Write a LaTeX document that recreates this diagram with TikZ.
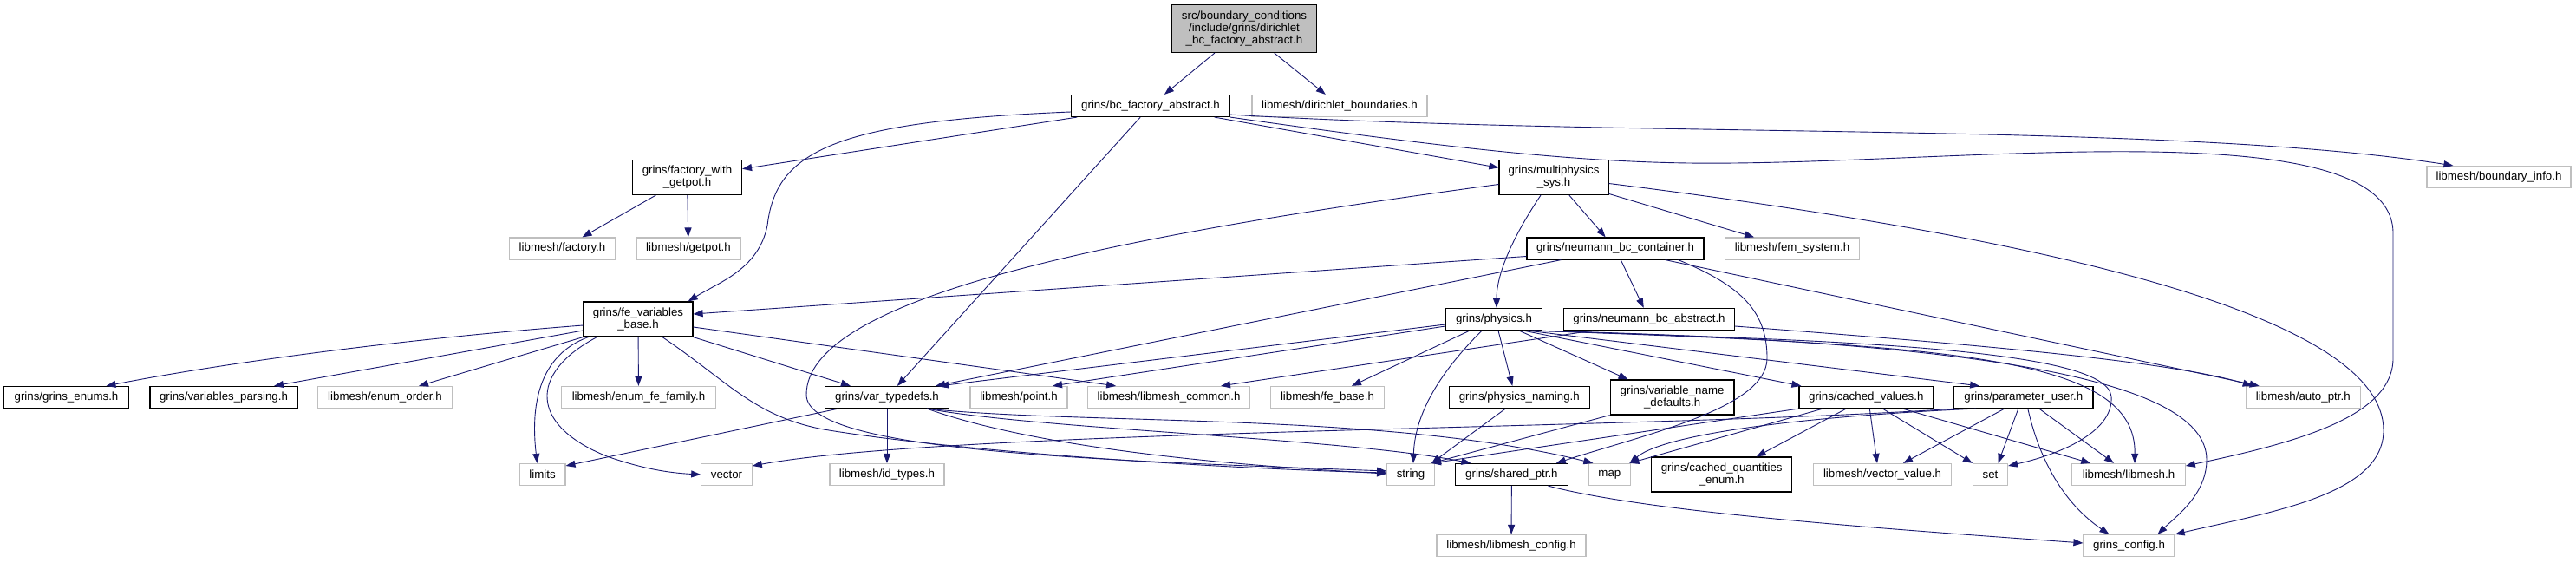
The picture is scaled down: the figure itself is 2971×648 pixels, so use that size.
\documentclass[tikz,border=0pt]{standalone}
\usepackage{fontspec}
\setmainfont{Liberation Sans}
\usetikzlibrary{arrows.meta}
\definecolor{edgeblue}{RGB}{25,25,112}
\definecolor{greyline}{RGB}{191,191,191}

\begin{document}
\begin{tikzpicture}[x=1pt,y=-1pt,
  every node/.style={font=\fontsize{13.3}{14}\selectfont,inner sep=0pt,align=center,minimum height=25pt},
  hfile/.style={draw=black,line width=1.2pt},
  xfile/.style={draw=greyline,line width=1.2pt},
  dep/.style={edgeblue,line width=0.9pt,-{Triangle[length=11pt,width=8pt]}}]
  \useasboundingbox (0,0) rectangle (2971,648);
  % rows of the include graph
  \node[hfile,fill=greyline,minimum width=167pt,minimum height=55pt] (src) at (1435,33) {src/boundary\_conditions\\/include/grins/dirichlet\\\_bc\_factory\_abstract.h};
  \node[hfile,minimum width=183pt] (bcfac) at (1327,122) {grins/bc\_factory\_abstract.h};
  \node[xfile,minimum width=202pt] (dirbc) at (1545,122) {libmesh/dirichlet\_boundaries.h};
  \node[hfile,minimum width=126pt,minimum height=40pt] (facget) at (792.5,204.5) {grins/factory\_with\\\_getpot.h};
  \node[hfile,minimum width=126pt,minimum height=40pt] (multi) at (1792,204.5) {grins/multiphysics\\\_sys.h};
  \node[xfile,minimum width=166pt] (bdinfo) at (2882,204) {libmesh/boundary\_info.h};
  \node[xfile,minimum width=122pt] (lmfac) at (648.5,286.5) {libmesh/factory.h};
  \node[xfile,minimum width=120pt] (getpot) at (794,286.5) {libmesh/getpot.h};
  \node[hfile,minimum width=204pt] (neucont) at (1863,286.5) {grins/neumann\_bc\_container.h};
  \node[xfile,minimum width=155pt] (femsys) at (2067,286.5) {libmesh/fem\_system.h};
  \node[hfile,minimum width=126pt,minimum height=40pt] (fevar) at (736,368) {grins/fe\_variables\\\_base.h};
  \node[hfile,minimum width=111pt] (physics) at (1723,368) {grins/physics.h};
  \node[hfile,minimum width=197pt] (neuabs) at (1902,368) {grins/neumann\_bc\_abstract.h};
  \node[hfile,minimum width=143.5pt] (enums) at (76.5,458) {grins/grins\_enums.h};
  \node[hfile,minimum width=170pt] (varpars) at (258,458) {grins/variables\_parsing.h};
  \node[xfile,minimum width=154.5pt] (enumord) at (444,458) {libmesh/enum\_order.h};
  \node[xfile,minimum width=177.7pt] (enumfe) at (736.5,458) {libmesh/enum\_fe\_family.h};
  \node[hfile,minimum width=143pt] (vartyp) at (1023,458) {grins/var\_typedefs.h};
  \node[xfile,minimum width=112pt] (point) at (1175,458) {libmesh/point.h};
  \node[xfile,minimum width=186.6pt] (lmcommon) at (1348,458) {libmesh/libmesh\_common.h};
  \node[xfile,minimum width=131pt] (febase) at (1531,458) {libmesh/fe\_base.h};
  \node[hfile,minimum width=161.7pt] (physnam) at (1752.3,458) {grins/physics\_naming.h};
  \node[hfile,minimum width=142.9pt,minimum height=40pt] (varname) at (1928.6,458) {grins/variable\_name\\\_defaults.h};
  \node[hfile,minimum width=154.6pt] (cachval) at (2152.3,458) {grins/cached\_values.h};
  \node[hfile,minimum width=160.2pt] (paruser) at (2333.8,458) {grins/parameter\_user.h};
  \node[xfile,minimum width=132pt] (autoptr) at (2656.3,458) {libmesh/auto\_ptr.h};
  \node[xfile,minimum width=52.6pt] (stdlimits) at (625.6,547) {limits};
  \node[xfile,minimum width=58.4pt] (stdvector) at (838,547) {vector};
  \node[xfile,minimum width=132pt] (idtypes) at (1023,547) {libmesh/id\_types.h};
  \node[xfile,minimum width=54.6pt] (stdstring) at (1627,547) {string};
  \node[hfile,minimum width=129.6pt] (sharedptr) at (1743.4,547) {grins/shared\_ptr.h};
  \node[xfile,minimum width=47.4pt] (stdmap) at (1856.4,547) {map};
  \node[hfile,minimum width=162.2pt,minimum height=40pt] (cachq) at (1985.7,547) {grins/cached\_quantities\\\_enum.h};
  \node[xfile,minimum width=159pt] (vecval) at (2171,547) {libmesh/vector\_value.h};
  \node[xfile,minimum width=40pt] (stdset) at (2295.5,547) {set};
  \node[xfile,minimum width=130.4pt] (lmlib) at (2455,547) {libmesh/libmesh.h};
  \node[xfile,minimum width=172pt] (lmconf) at (1743,629) {libmesh/libmesh\_config.h};
  \node[xfile,minimum width=105pt] (gconf) at (2455.5,629) {grins\_config.h};
  % src file
  \draw[dep] (src) -- (bcfac);
  \draw[dep] (src) -- (dirbc);
  % grins/bc_factory_abstract.h
  \draw[dep] (bcfac) -- (facget);
  \draw[dep] ([yshift=-7pt]bcfac.west) .. controls (960,140) and (895,175) .. (885,260) .. controls (875,310) and (830,325) .. ([xshift=-6pt]fevar.north east);
  \draw[dep] (bcfac) -- (vartyp);
  \draw[dep] (bcfac) -- (multi);
  \draw[dep] ([yshift=3pt]bcfac.south east) .. controls (1900,160) and (2500,140) .. ([xshift=31pt]bdinfo.north west);
  \draw[dep] (bcfac.south east) .. controls (1700,175) and (1850,190) .. (2000,188) .. controls (2300,185) and (2760,130) .. (2760,269) -- (2760,413) .. controls (2760,480) and (2650,510) .. ([yshift=10pt]lmlib.east);
  % grins/factory_with_getpot.h
  \draw[dep] (facget) -- (lmfac);
  \draw[dep] (facget) -- (getpot);
  % grins/multiphysics_sys.h
  \draw[dep] (multi) -- (neucont);
  \draw[dep] (multi) -- (femsys);
  \draw[dep] ([xshift=-15pt]multi.south) .. controls (1740,280) and (1726,320) .. ([xshift=3pt]physics.north);
  \draw[dep] ([yshift=-8pt]multi.west) .. controls (1300,270) and (930,340) .. (930,455) .. controls (930,520) and (1250,530) .. ([yshift=4pt]stdstring.west);
  \draw[dep] ([yshift=-7pt]multi.east) .. controls (2450,285) and (2749,380) .. (2749,496) .. controls (2749,570) and (2620,590) .. (gconf.north east);
  % grins/neumann_bc_container.h
  \draw[dep] ([yshift=-9pt]neucont.west) -- ([yshift=6pt]fevar.east);
  \draw[dep] ([xshift=40pt]neucont.south west) -- ([xshift=-16pt]vartyp.north east);
  \draw[dep] (neucont) -- (neuabs);
  \draw[dep] ([xshift=-45pt]neucont.south east) -- ([xshift=16pt]autoptr.north west);
  \draw[dep] ([xshift=-30pt]neucont.south east) .. controls (2010,330) and (2038,360) .. (2038,413) .. controls (2038,470) and (1900,500) .. ([xshift=-14pt]sharedptr.north east);
  % grins/neumann_bc_abstract.h
  \draw[dep] ([xshift=-65pt]neuabs.south) -- ([xshift=60pt]lmcommon.north);
  \draw[dep] ([yshift=-8pt]neuabs.east) .. controls (2250,395) and (2500,415) .. ([xshift=8pt]autoptr.north west);
  % grins/physics.h
  \draw[dep] ([yshift=-6pt]physics.west) -- ([xshift=-12pt]vartyp.north east);
  \draw[dep] ([yshift=-8pt]physics.west) -- ([xshift=39pt]point.north);
  \draw[dep] (physics) -- (febase);
  \draw[dep] ([xshift=-14pt]physics.south) .. controls (1670,420) and (1632,470) .. ([xshift=3pt]stdstring.north);
  \draw[dep] ([xshift=5pt]physics.south) -- ([xshift=-8pt]physnam.north);
  \draw[dep] ([xshift=29pt]physics.south) -- ([xshift=-51pt]varname.north);
  \draw[dep] ([xshift=34pt]physics.south) -- ([xshift=3pt]cachval.north west);
  \draw[dep] ([xshift=39pt]physics.south) -- ([xshift=30pt]paruser.north west);
  \draw[dep] ([xshift=42pt]physics.south) .. controls (2100,392) and (2430,400) .. (2435,457) .. controls (2438,500) and (2370,525) .. ([yshift=10pt]stdset.east);
  \draw[dep] ([xshift=44pt]physics.south) .. controls (2250,398) and (2464,410) .. ([xshift=7pt]lmlib.north);
  \draw[dep] ([xshift=46pt]physics.south) .. controls (2300,394) and (2545,440) .. (2545,530) .. controls (2545,570) and (2510,595) .. ([xshift=33pt]gconf.north);
  % grins/fe_variables_base.h
  \draw[dep] ([yshift=-7pt]fevar.west) .. controls (450,392) and (250,420) .. ([xshift=46pt]enums.north);
  \draw[dep] ([yshift=-13pt]fevar.west) -- ([xshift=58pt]varpars.north);
  \draw[dep] (fevar.south west) -- ([xshift=39pt]enumord.north);
  \draw[dep] (fevar) -- (enumfe);
  \draw[dep] ([xshift=6pt]fevar.south west) .. controls (620,410) and (612,470) .. ([xshift=-6pt]stdlimits.north);
  \draw[dep] ([xshift=16pt]fevar.south west) .. controls (610,430) and (610,490) .. (700,526) .. controls (740,540) and (770,545) .. (stdvector.west);
  \draw[dep] (fevar.south east) -- ([xshift=30pt]vartyp.north west);
  \draw[dep] ([yshift=-9pt]fevar.east) -- ([xshift=33pt]lmcommon.north west);
  \draw[dep] ([xshift=28pt]fevar.south) .. controls (840,440) and (870,480) .. (950,495) .. controls (1100,520) and (1400,540) .. ([yshift=2pt]stdstring.west);
  % grins/var_typedefs.h
  \draw[dep] ([xshift=16pt]vartyp.south west) -- ([yshift=10pt]stdlimits.east);
  \draw[dep] (vartyp) -- (idtypes);
  \draw[dep] ([xshift=-26pt]vartyp.south east) .. controls (1150,500) and (1300,530) .. ([yshift=1pt]stdstring.west);
  \draw[dep] ([xshift=-26pt]vartyp.south east) .. controls (1200,495) and (1550,505) .. ([xshift=-47pt]sharedptr.north);
  \draw[dep] ([xshift=-26pt]vartyp.south east) .. controls (1250,490) and (1600,475) .. ([xshift=-19pt]stdmap.north);
  % small headers into string
  \draw[dep] ([xshift=-16pt]physnam.south) -- ([xshift=24pt]stdstring.north);
  \draw[dep] ([xshift=-72pt]varname.south) -- ([xshift=24pt]stdstring.north);
  % grins/cached_values.h
  \draw[dep] (cachval.south west) -- ([xshift=24pt]stdstring.north);
  \draw[dep] ([xshift=-50pt]cachval.south) -- ([xshift=23pt]stdmap.north);
  \draw[dep] ([xshift=-23pt]cachval.south) -- ([xshift=40pt]cachq.north);
  \draw[dep] ([xshift=4pt]cachval.south) -- ([xshift=-6pt]vecval.north);
  \draw[dep] ([xshift=19pt]cachval.south) -- (stdset.north west);
  \draw[dep] ([xshift=42pt]cachval.south) -- ([xshift=22pt]lmlib.north west);
  % grins/parameter_user.h
  \draw[dep] ([xshift=26pt]paruser.south west) .. controls (2080,480) and (1920,500) .. ([xshift=23pt]stdmap.north);
  \draw[dep] ([xshift=2pt]paruser.south west) .. controls (1900,495) and (1100,495) .. ([yshift=10pt]stdvector.east);
  \draw[dep] ([xshift=-22pt]paruser.south) -- ([xshift=24pt]vecval.north);
  \draw[dep] ([xshift=-6pt]paruser.south) -- ([xshift=9pt]stdset.north);
  \draw[dep] ([xshift=18pt]paruser.south) -- ([xshift=-17pt]lmlib.north);
  \draw[dep] ([xshift=5pt]paruser.south) .. controls (2352,530) and (2380,580) .. ([xshift=-23pt]gconf.north);
  % grins/shared_ptr.h
  \draw[dep] (sharedptr) -- (lmconf);
  \draw[dep] ([xshift=42pt]sharedptr.south) .. controls (1900,590) and (2150,608) .. ([yshift=3pt]gconf.west);
\end{tikzpicture}
\end{document}
